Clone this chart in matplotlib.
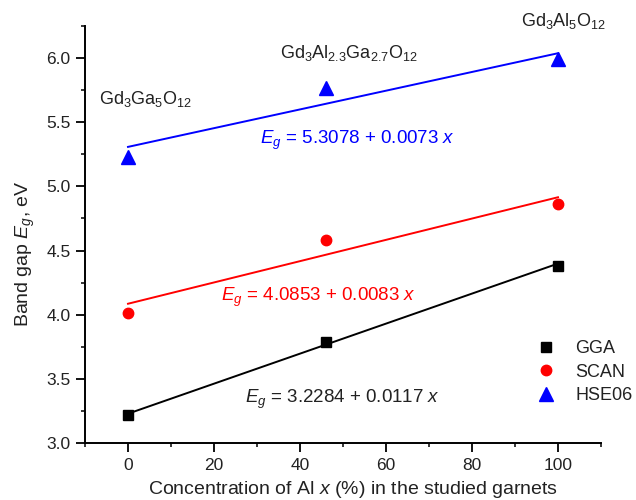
import matplotlib
matplotlib.use("Agg")
import matplotlib.pyplot as plt
from matplotlib.ticker import MultipleLocator

plt.rcParams['font.family'] = ['Liberation Sans', 'DejaVu Sans']
plt.rcParams['mathtext.fontset'] = 'custom'
plt.rcParams['mathtext.rm'] = 'Liberation Sans'
plt.rcParams['mathtext.it'] = 'Liberation Sans:italic'

# Data
x_al = [0, 46, 100]
gga = [3.22, 3.79, 4.38]
scan = [4.01, 4.58, 4.86]
hse = [5.23, 5.77, 5.99]
fit_gga = (3.2284, 0.0117)
fit_scan = (4.0853, 0.0083)
fit_hse = (5.3078, 0.0073)
fit_x = [0, 100]

TXT = '#222222'
fig = plt.figure(figsize=(6.36, 5.0), dpi=100)
ax = fig.add_axes([85/636, 1 - 443/500, 516/636, 417/500])

def fitline(c):
    return [c[0] + c[1] * v for v in fit_x]

ax.plot(fit_x, fitline(fit_gga), color='black', lw=1.4)
ax.plot(fit_x, fitline(fit_scan), color='red', lw=1.4)
ax.plot(fit_x, fitline(fit_hse), color='blue', lw=1.4)

ax.plot(x_al, gga, 's', color='black', ms=7, label='GGA', ls='none')
ax.plot(x_al, scan, 'o', color='red', ms=7.5, label='SCAN', ls='none')
ax.plot(x_al, hse, '^', color='blue', ms=9.5, label='HSE06', ls='none')

ax.set_xlim(-10, 110)
ax.set_ylim(3.0, 6.25)
ax.xaxis.set_minor_locator(MultipleLocator(10))
ax.yaxis.set_minor_locator(MultipleLocator(0.25))
ax.set_xticks([0, 20, 40, 60, 80, 100])
ax.set_yticks([3.0, 3.5, 4.0, 4.5, 5.0, 5.5, 6.0])
ax.spines['top'].set_visible(False)
ax.spines['right'].set_visible(False)
for s in ['left', 'bottom']:
    ax.spines[s].set_linewidth(1.4)
ax.tick_params(which='major', direction='out', length=6.5, width=1.3, labelsize=12.5,
               labelcolor=TXT, pad=4)
ax.tick_params(which='minor', direction='out', length=3, width=1.1)

ax.set_xlabel('Concentration of Al $\\mathit{x}$ (%) in the studied garnets', fontsize=14,
              color=TXT)
ax.xaxis.set_label_coords((353 - 85) / 516, -(490 - 443) / 417)
ax.xaxis.label.set_va('center')
ax.set_ylabel('Band gap $\\mathit{E}_{\\mathit{g}}$, eV', fontsize=14, color=TXT)
ax.yaxis.set_label_coords(-(85 - 37) / 516, (443 - 254) / 417)

ax.text(-6.7, 5.64, 'Gd$_3$Ga$_5$O$_{12}$', fontsize=13, color=TXT)
ax.text(35.3, 6.0, 'Gd$_3$Al$_{2.3}$Ga$_{2.7}$O$_{12}$', fontsize=13, color=TXT)
ax.text(91.5, 6.25, 'Gd$_3$Al$_5$O$_{12}$', fontsize=13, color=TXT, clip_on=False)

ax.text(30.6, 5.33, '$\\mathit{E}_{\\mathit{g}}$ = 5.3078 + 0.0073 $\\mathit{x}$', fontsize=13.5, color='blue')
ax.text(21.6, 4.11, '$\\mathit{E}_{\\mathit{g}}$ = 4.0853 + 0.0083 $\\mathit{x}$', fontsize=13.5, color='red')
ax.text(27.3, 3.31, '$\\mathit{E}_{\\mathit{g}}$ = 3.2284 + 0.0117 $\\mathit{x}$', fontsize=13.5, color=TXT)

leg = ax.legend(loc='upper left', bbox_to_anchor=((530 - 85) / 516, (443 - 333) / 417),
                frameon=False, fontsize=13, handletextpad=1.1, labelspacing=0.35,
                handlelength=1.0, borderaxespad=0, borderpad=0.4)
for t in leg.get_texts():
    t.set_color(TXT)

fig.savefig('out.png', dpi=100)
